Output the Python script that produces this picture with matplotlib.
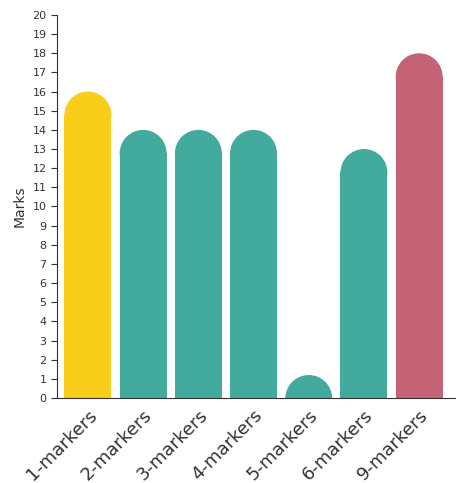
import matplotlib
matplotlib.use("Agg")
import matplotlib.pyplot as plt
from matplotlib.patches import Rectangle, Ellipse

categories = ["1-markers", "2-markers", "3-markers", "4-markers", "5-markers", "6-markers", "9-markers"]
values = [16, 14, 14, 14, 1.2, 13, 18]
colors = ["#F9CE1A", "#42AB9E", "#42AB9E", "#42AB9E", "#42AB9E", "#42AB9E", "#C46375"]

fig = plt.figure(figsize=(4.65, 4.83), dpi=100)
ax = fig.add_axes([0.1226, 0.176, 0.856, 0.793])
ax.set_xlim(-0.56, 6.65)
ax.set_ylim(0, 20)

w = 0.85
# radius in y data units matching half width in pixels
bbox = ax.get_window_extent()
px_per_x = bbox.width / (6.65 + 0.56)
px_per_y = bbox.height / 20
r_px = w / 2 * px_per_x
ry = r_px / px_per_y
for i, (v, c) in enumerate(zip(values, colors)):
    base = v - ry
    if base > 0:
        ax.add_patch(Rectangle((i - w / 2, 0), w, base, color=c, lw=0))
    ax.add_patch(Ellipse((i, base), w, 2 * ry, color=c, lw=0))

ax.set_xticks(range(len(categories)))
ax.set_xticklabels(categories, rotation=45, ha="right", rotation_mode="anchor", fontsize=13, color="#333333")
ax.tick_params(axis="x", length=0, pad=6)
ax.set_yticks(range(0, 21))
ax.tick_params(axis="y", labelsize=8, length=4, color="#333333", labelcolor="#333333")
ax.set_ylabel("Marks", fontsize=10, color="#333333")
for s in ["top", "right"]:
    ax.spines[s].set_visible(False)
for s in ["left", "bottom"]:
    ax.spines[s].set_color("#333333")
fig.savefig("out.png", dpi=100)
